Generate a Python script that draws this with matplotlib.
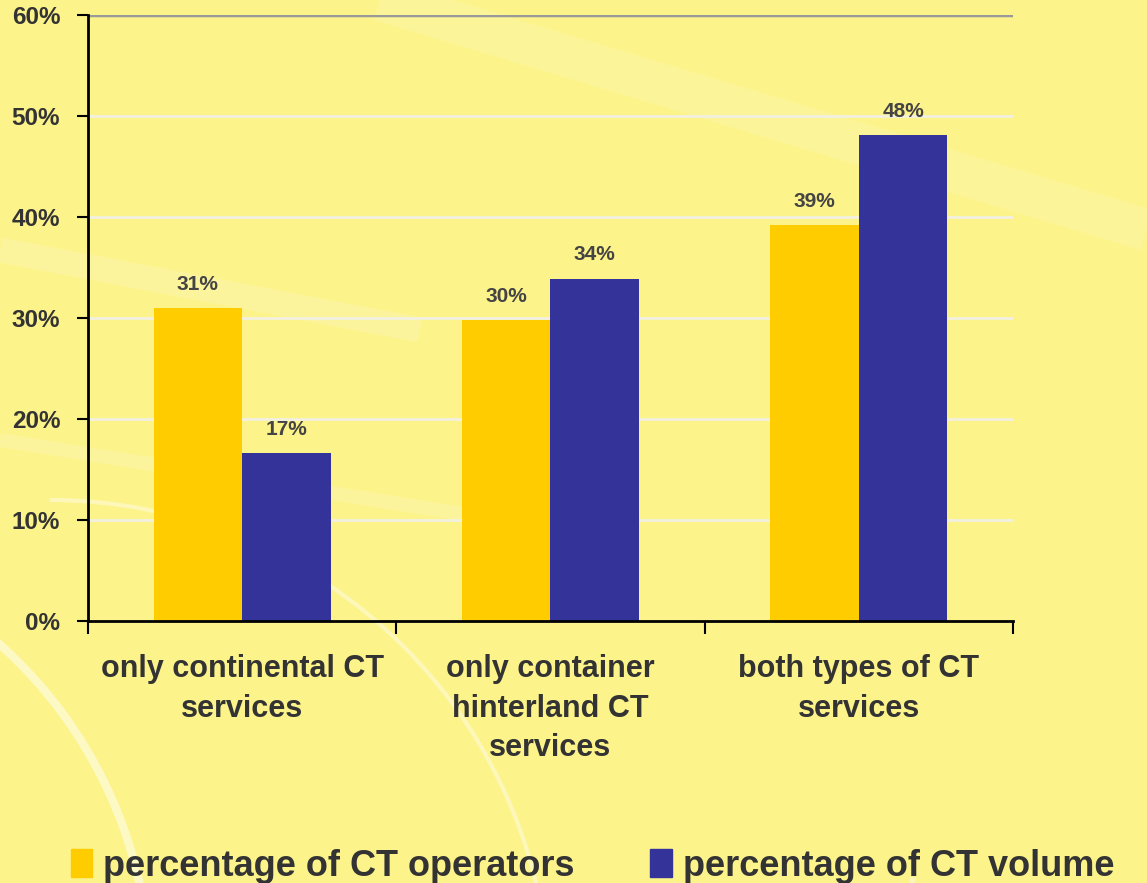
import matplotlib
matplotlib.use("Agg")
import matplotlib.pyplot as plt
from matplotlib.patches import Arc, Patch
import numpy as np

categories = ["only continental CT\nservices",
              "only container\nhinterland CT\nservices",
              "both types of CT\nservices"]
operators = [31.0, 29.8, 39.2]
volume = [16.6, 33.9, 48.1]
operators_labels = ["31%", "30%", "39%"]
volume_labels = ["17%", "34%", "48%"]
series_names = ["percentage of CT operators", "percentage of CT volume"]
yticks = [0, 10, 20, 30, 40, 50, 60]
ytick_labels = ["0%", "10%", "20%", "30%", "40%", "50%", "60%"]

YELLOW = "#FFCC00"
BLUE = "#333399"
TXT = "#333333"
BG = "#FCF38B"

plt.rcParams['font.family'] = ['Liberation Sans', 'DejaVu Sans']

fig = plt.figure(figsize=(11.47, 8.83), dpi=100, facecolor=BG)

# decorative background swirls (figure coords in pixels)
bg = fig.add_axes([0, 0, 1, 1], zorder=-10)
bg.set_xlim(0, 1147)
bg.set_ylim(883, 0)
bg.axis("off")
bg.add_patch(Arc((-300, 980), 900, 900, theta1=270, theta2=360, color="white", lw=6, alpha=0.5))
bg.add_patch(Arc((50, 1000), 1000, 1000, theta1=270, theta2=360, color="white", lw=3, alpha=0.4))
bg.add_patch(Arc((1250, 1000), 700, 900, theta1=110, theta2=200, color="white", lw=4, alpha=0.4))
bg.plot([0, 420], [250, 330], color="white", lw=18, alpha=0.15, solid_capstyle="butt")
bg.plot([0, 500], [440, 520], color="white", lw=10, alpha=0.15, solid_capstyle="butt")
bg.plot([380, 1147], [0, 230], color="white", lw=30, alpha=0.12, solid_capstyle="butt")

ax = fig.add_axes([88/1147, 1-621/883, (1013-88)/1147, (621-15)/883])
ax.set_facecolor("none")

x = np.arange(len(categories))
w = 0.287
ax.bar(x - w/2, operators, w, color=YELLOW, zorder=3)
ax.bar(x + w/2, volume, w, color=BLUE, zorder=3)

for xi, v, lab in zip(x - w/2, operators, operators_labels):
    ax.annotate(lab, (xi, v), xytext=(0, 17), textcoords="offset points",
                ha="center", va="center", fontsize=15, fontweight="bold", color="#444444")
for xi, v, lab in zip(x + w/2, volume, volume_labels):
    ax.annotate(lab, (xi, v), xytext=(0, 17), textcoords="offset points",
                ha="center", va="center", fontsize=15, fontweight="bold", color="#444444")

ax.set_xlim(-0.5, len(categories) - 0.5)
ax.set_ylim(0, 60)
ax.set_yticks(yticks)
ax.set_yticklabels(ytick_labels, fontsize=17.5, fontweight="bold", color=TXT)
ax.tick_params(axis="y", direction="out", length=8, width=1.5, color="black", pad=12)

for y in yticks[1:-1]:
    ax.axhline(y, color="#F2F0E0", lw=2, zorder=1)
ax.axhline(60, color="#999999", lw=2.5, zorder=1)

ax.set_xticks(np.arange(-0.5, len(categories)), minor=False)
ax.set_xticklabels([])
ax.tick_params(axis="x", which="major", direction="out", length=9, width=1.5, color="black")
ax.set_xticks(x, minor=True)
ax.set_xticklabels(categories, minor=True, fontsize=22, fontweight="bold", color=TXT,
                   linespacing=1.4)
ax.tick_params(axis="x", which="minor", length=0, pad=24)

for s in ["top", "right"]:
    ax.spines[s].set_visible(False)
ax.spines["left"].set_linewidth(2)
ax.spines["bottom"].set_linewidth(2)
ax.spines["left"].set_zorder(4)
ax.spines["bottom"].set_zorder(4)

handles = [Patch(color=YELLOW), Patch(color=BLUE)]
fig.legend(handles, series_names, loc="lower left", bbox_to_anchor=(38/1147, -33/883),
           ncol=2, frameon=False, handlelength=0.6, handleheight=0.8,
           handletextpad=0.3, columnspacing=2.1,
           prop={"size": 26, "weight": "bold"}, labelcolor=TXT)

fig.savefig("out.png", dpi=100, facecolor=BG)
